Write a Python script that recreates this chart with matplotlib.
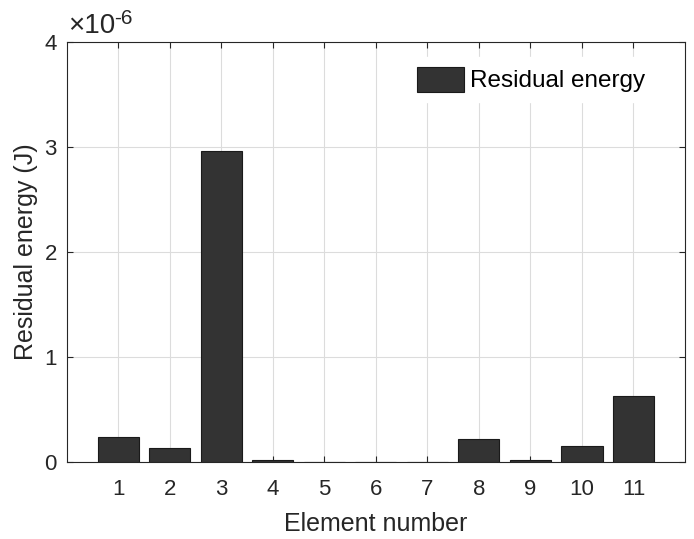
import numpy as np
import matplotlib
matplotlib.use("Agg")
import matplotlib.pyplot as plt

# residual energy per element (units of 1e-6 J)
elements = [1, 2, 3, 4, 5, 6, 7, 8, 9, 10, 11]
energy = [0.235, 0.133, 2.965, 0.02, 0.003, 0.002, 0.002, 0.216, 0.02, 0.155, 0.63]
scale = 1e-6

plt.rcParams['font.family'] = ['Liberation Sans', 'DejaVu Sans']
txt = '#262626'

fig = plt.figure(figsize=(6.94, 5.39), dpi=100)
ax = fig.add_axes([0.0961, 0.1429, 0.987 - 0.0961, 0.9215 - 0.1429])

vals = np.array(energy) * scale
ax.bar(elements, vals, width=0.8, color='#333333', edgecolor='#1a1a1a',
       linewidth=0.8, label='Residual energy', zorder=3)

ax.set_xlim(0, 12)
ax.set_ylim(0, 4e-6)
ax.set_xticks(elements)
ax.set_yticks(np.arange(0, 5) * scale)
ax.set_yticklabels([str(i) for i in range(5)])

ax.grid(True, color='#dcdcdc', linewidth=0.8, zorder=0)
ax.set_axisbelow(True)
for s in ax.spines.values():
    s.set_color('#262626')
    s.set_linewidth(0.8)
ax.tick_params(direction='in', length=4.5, width=0.8, color='#262626',
               top=True, right=True, labelsize=16, labelcolor=txt)
ax.tick_params(axis='x', pad=12)
ax.tick_params(axis='y', pad=7)

ax.set_xlabel('Element number', fontsize=18, color=txt, labelpad=9)
ax.set_ylabel('Residual energy (J)', fontsize=18, color=txt, labelpad=5)

# exponent label, MATLAB style
ax.text(0.003, 1.008, u'\u00d710', transform=ax.transAxes,
        fontsize=20, color=txt, ha='left', va='bottom')
ax.text(0.077, 1.035, '-6', transform=ax.transAxes,
        fontsize=15, color=txt, ha='left', va='bottom')

leg = ax.legend(loc='upper right', bbox_to_anchor=(0.975, 1.0), fontsize=17.5,
                frameon=True, handlelength=1.95, handleheight=1.2,
                handletextpad=0.25, borderaxespad=0.6, fancybox=False,
                framealpha=1)
leg.get_frame().set_edgecolor('white')
for t in leg.get_texts():
    t.set_color('black')

fig.savefig('out.png', dpi=100)
